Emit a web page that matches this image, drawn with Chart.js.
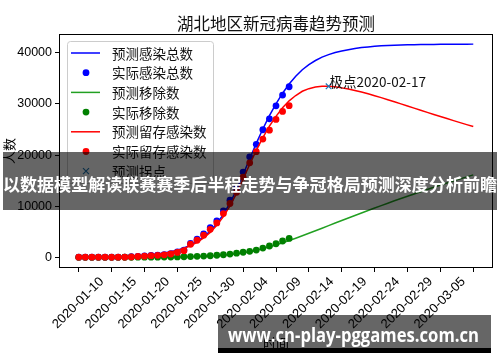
<!DOCTYPE html>
<html>
<head>
<meta charset="utf-8">
<script src="https://cdn.jsdelivr.net/npm/chart.js@4.4.1/dist/chart.umd.min.js"></script>
<style>
  html, body { margin: 0; padding: 0; background: #fff; }
  #wrap { position: relative; width: 500px; height: 362px; overflow: hidden; }
  #chart { position: absolute; left: 0; top: 0; }
  .banner { position: absolute; background: rgba(0,0,0,0.6); color: #fff; font-weight: bold; white-space: nowrap; }
  .banner span { display: inline-block; transform-origin: left center; }
  #band-mid { left: 3px; top: 152px; width: 494px; height: 58px; line-height: 64px; font-family: "Noto Sans CJK SC", sans-serif; font-size: 17.6px; }
  #band-bot { left: 218px; top: 315px; width: 273px; height: 33px; line-height: 40px; font-family: "Open Sans", "DejaVu Sans", sans-serif; font-size: 20px; padding-left: 10px; box-sizing: border-box; }
  #band-bar { position: absolute; left: 218px; top: 348px; width: 273px; height: 5px; background: #000; }
</style>
</head>
<body>
<div id="wrap">
  <canvas id="chart" width="500" height="362"></canvas>
  <div class="banner" id="band-mid"><span>以数据模型解读联赛赛季后半程走势与争冠格局预测深度分析前瞻</span></div>
  <div class="banner" id="band-bot"><span>www.cn-play-pggames.com.cn</span></div>
  <div id="band-bar"></div>
</div>
<script>
// ── data (day 0 = 2020-01-10) ──
const chartTitle = '湖北地区新冠病毒趋势预测';
const seriesNames = ['预测感染总数', '实际感染总数', '预测移除数', '实际移除数', '预测留存感染数', '实际留存感染数', '预测拐点'];
const tickDays = [0, 5, 10, 15, 20, 25, 30, 35, 40, 45, 50, 55, 60];
const tickLabels = ['2020-01-10', '2020-01-15', '2020-01-20', '2020-01-25', '2020-01-30', '2020-02-04',
  '2020-02-09', '2020-02-14', '2020-02-19', '2020-02-24', '2020-02-29', '2020-03-05', ''];
const yTicks = [0, 10000, 20000, 30000, 40000];

// actual, 2020-01-10 .. 2020-02-11
const actTotal = [41, 41, 41, 41, 41, 41, 45, 62, 121, 198, 270, 375, 444, 549, 729, 1052, 1423, 2714,
  3554, 4586, 5806, 7153, 9074, 11177, 13522, 16678, 19665, 22112, 24953, 27100, 29631, 31728, 33366];
const actRemoved = [3, 7, 8, 8, 8, 14, 17, 21, 27, 28, 31, 37, 45, 55, 71, 94, 120, 147, 205, 252, 320,
  415, 509, 645, 810, 999, 1182, 1435, 1814, 2219, 2666, 3196, 3707];
const actActive = [38, 34, 33, 33, 33, 27, 28, 41, 94, 170, 239, 338, 399, 494, 658, 958, 1303, 2567,
  3349, 4334, 5486, 6738, 8565, 10532, 12712, 15679, 18483, 20677, 23139, 24881, 26965, 28532, 29659];

// predicted, 2020-01-10 .. 2020-03-10
const predTotal = [29, 37, 48, 62, 80, 105, 135, 175, 225, 290,
  380, 495, 645, 840, 1090, 1420, 1850, 2400, 3100, 4000,
  5150, 6600, 8400, 10600, 13200, 16200, 19300, 22300, 25100, 27700,
  30000, 32100, 33900, 35400, 36700, 37700, 38500, 39150, 39650, 40050,
  40350, 40620, 40840, 41020, 41160, 41270, 41360, 41430, 41490, 41530,
  41565, 41595, 41615, 41635, 41650, 41662, 41672, 41680, 41688, 41694, 41700];
const predRemoved = [3, 3, 4, 5, 6, 7, 8, 10, 13, 16,
  21, 27, 34, 44, 56, 73, 94, 122, 156, 200,
  257, 330, 424, 544, 695, 882, 1112, 1385, 1699, 2050,
  2435, 2848, 3287, 3746, 4221, 4708, 5203, 5702, 6204, 6706,
  7206, 7703, 8197, 8686, 9171, 9651, 10126, 10594, 11057, 11513,
  11963, 12407, 12845, 13277, 13702, 14121, 14534, 14942, 15343, 15738, 16127];
const predActive = [26, 34, 44, 57, 74, 98, 127, 165, 212, 274,
  359, 468, 611, 796, 1034, 1347, 1756, 2278, 2944, 3800,
  4893, 6270, 7976, 10056, 12505, 15318, 18188, 20915, 23401, 25650,
  27565, 29252, 30613, 31654, 32479, 32992, 33297, 33448, 33446, 33344,
  33144, 32917, 32643, 32334, 31989, 31619, 31234, 30836, 30433, 30017,
  29602, 29188, 28770, 28358, 27948, 27541, 27138, 26738, 26345, 25956, 25573];

const peakDay = 38;
const peakText = '极点2020-02-17';

const BLUE = '#0000ff', GREEN_LINE = '#22a022', GREEN = '#008000', RED = '#ff0000', MARK = '#1f77b4';
const FONT_CJK = '"Noto Sans CJK SC", sans-serif';
const FONT_NUM = '"Liberation Sans", Arial, sans-serif';

const pts = arr => arr.map((v, i) => ({ x: i, y: v }));

function lineSet(label, arr, color, order) {
  return { label, data: pts(arr), borderColor: color, backgroundColor: color, borderWidth: 1.5,
    pointRadius: 0, showLine: true, tension: 0, order };
}
function dotSet(label, arr, color, order) {
  return { label, data: pts(arr), borderColor: color, backgroundColor: color, borderWidth: 0,
    pointRadius: 3.4, showLine: false, order };
}

// legend handles, in seriesNames order
const legendKinds = [
  { kind: 'line', color: BLUE }, { kind: 'dot', color: BLUE },
  { kind: 'line', color: GREEN_LINE }, { kind: 'dot', color: GREEN },
  { kind: 'line', color: RED }, { kind: 'dot', color: RED },
  { kind: 'cross', color: MARK },
];

// ── frame, title, legend, annotation ──
const decorPlugin = {
  id: 'decor',
  afterDatasetsDraw(chart) {
    const { ctx, chartArea: ca, scales } = chart;
    ctx.save();
    // frame
    ctx.strokeStyle = '#000';
    ctx.lineWidth = 1;
    ctx.strokeRect(Math.round(ca.left) + 0.5, Math.round(ca.top) + 0.5,
      Math.round(ca.right - ca.left) - 1, Math.round(ca.bottom - ca.top) - 1);

    // title
    ctx.fillStyle = '#111';
    ctx.font = '16.5px ' + FONT_CJK;
    ctx.textAlign = 'center';
    ctx.textBaseline = 'middle';
    ctx.fillText(chartTitle, (ca.left + ca.right) / 2, 23.5);

    // annotation at the peak
    const px = scales.x.getPixelForValue(peakDay);
    const py = scales.y.getPixelForValue(predActive[peakDay]);
    ctx.font = '13.5px ' + FONT_CJK;
    ctx.textAlign = 'left';
    ctx.textBaseline = 'alphabetic';
    ctx.fillStyle = '#111';
    ctx.fillText(peakText, px + 1, py + 1);

    // legend
    const bx = ca.left + 8, by = ca.top + 7, bw = 146, bh = 142;
    ctx.beginPath();
    ctx.roundRect(bx + 0.5, by + 0.5, bw, bh, 3);
    ctx.fillStyle = 'rgba(255,255,255,0.8)';
    ctx.fill();
    ctx.strokeStyle = '#cccccc';
    ctx.stroke();
    ctx.font = '13.5px ' + FONT_CJK;
    ctx.textBaseline = 'middle';
    seriesNames.forEach((name, i) => {
      const y = by + 12 + i * 19.7;
      const h = legendKinds[i];
      ctx.strokeStyle = h.color;
      ctx.fillStyle = h.color;
      if (h.kind === 'line') {
        ctx.lineWidth = 1.5;
        ctx.beginPath(); ctx.moveTo(bx + 4, y); ctx.lineTo(bx + 33, y); ctx.stroke();
      } else if (h.kind === 'dot') {
        ctx.beginPath(); ctx.arc(bx + 19, y, 3.4, 0, Math.PI * 2); ctx.fill();
      } else {
        ctx.lineWidth = 1.2;
        ctx.beginPath();
        ctx.moveTo(bx + 16, y - 3); ctx.lineTo(bx + 22, y + 3);
        ctx.moveTo(bx + 16, y + 3); ctx.lineTo(bx + 22, y - 3);
        ctx.stroke();
      }
      ctx.fillStyle = '#111';
      ctx.fillText(name, bx + 45, y + 0.5);
    });
    ctx.restore();
  }
};

new Chart(document.getElementById('chart'), {
  type: 'line',
  data: {
    datasets: [
      lineSet(seriesNames[0], predTotal, BLUE, 6),
      dotSet(seriesNames[1], actTotal, BLUE, 5),
      lineSet(seriesNames[2], predRemoved, GREEN_LINE, 4),
      dotSet(seriesNames[3], actRemoved, GREEN, 3),
      lineSet(seriesNames[4], predActive, RED, 2),
      dotSet(seriesNames[5], actActive, RED, 1),
      { label: seriesNames[6], data: [{ x: peakDay, y: predActive[peakDay] }], showLine: false,
        pointStyle: 'crossRot', pointRadius: 4, borderColor: MARK, borderWidth: 1.2, order: 0 },
    ]
  },
  options: {
    responsive: false,
    animation: false,
    devicePixelRatio: 1,
    layout: { padding: { left: 0, top: 34, right: 7, bottom: 0 } },
    plugins: { legend: { display: false }, tooltip: { enabled: false } },
    scales: {
      x: {
        type: 'linear', min: -3, max: 63,
        afterBuildTicks: axis => { axis.ticks = tickDays.map(v => ({ value: v })); },
        afterFit: axis => { axis.height = 94; },
        ticks: {
          autoSkip: false, minRotation: 45, maxRotation: 45, labelOffset: 23, padding: 2,
          color: '#000', font: { family: FONT_NUM, size: 13 },
          callback: (v, i) => tickLabels[i],
        },
        grid: { drawOnChartArea: false, drawTicks: true, tickLength: 4, color: '#000' },
        border: { display: false },
        title: { display: true, text: '时间', color: '#000', font: { family: FONT_CJK, size: 13 },
          padding: { top: 0, bottom: 11 } },
      },
      y: {
        type: 'linear', min: -2080, max: 43680,
        afterBuildTicks: axis => { axis.ticks = yTicks.map(v => ({ value: v })); },
        afterFit: axis => { axis.width = 59; },
        ticks: { color: '#000', font: { family: FONT_NUM, size: 12.5 }, padding: 3,
          callback: v => String(v) },
        grid: { drawOnChartArea: false, drawTicks: true, tickLength: 4, color: '#000' },
        border: { display: false },
        title: { display: true, text: '人数', color: '#000', font: { family: FONT_CJK, size: 13 },
          padding: { top: 1, bottom: 0 } },
      }
    }
  },
  plugins: [decorPlugin]
});

// fit banner texts to the widths seen in the picture
function fitText(id, width) {
  const span = document.querySelector('#' + id + ' span');
  const w = span.getBoundingClientRect().width;
  if (w > 0) span.style.transform = 'scaleX(' + (width / w) + ')';
}
fitText('band-mid', 494);
fitText('band-bot', 251);
</script>
</body>
</html>
